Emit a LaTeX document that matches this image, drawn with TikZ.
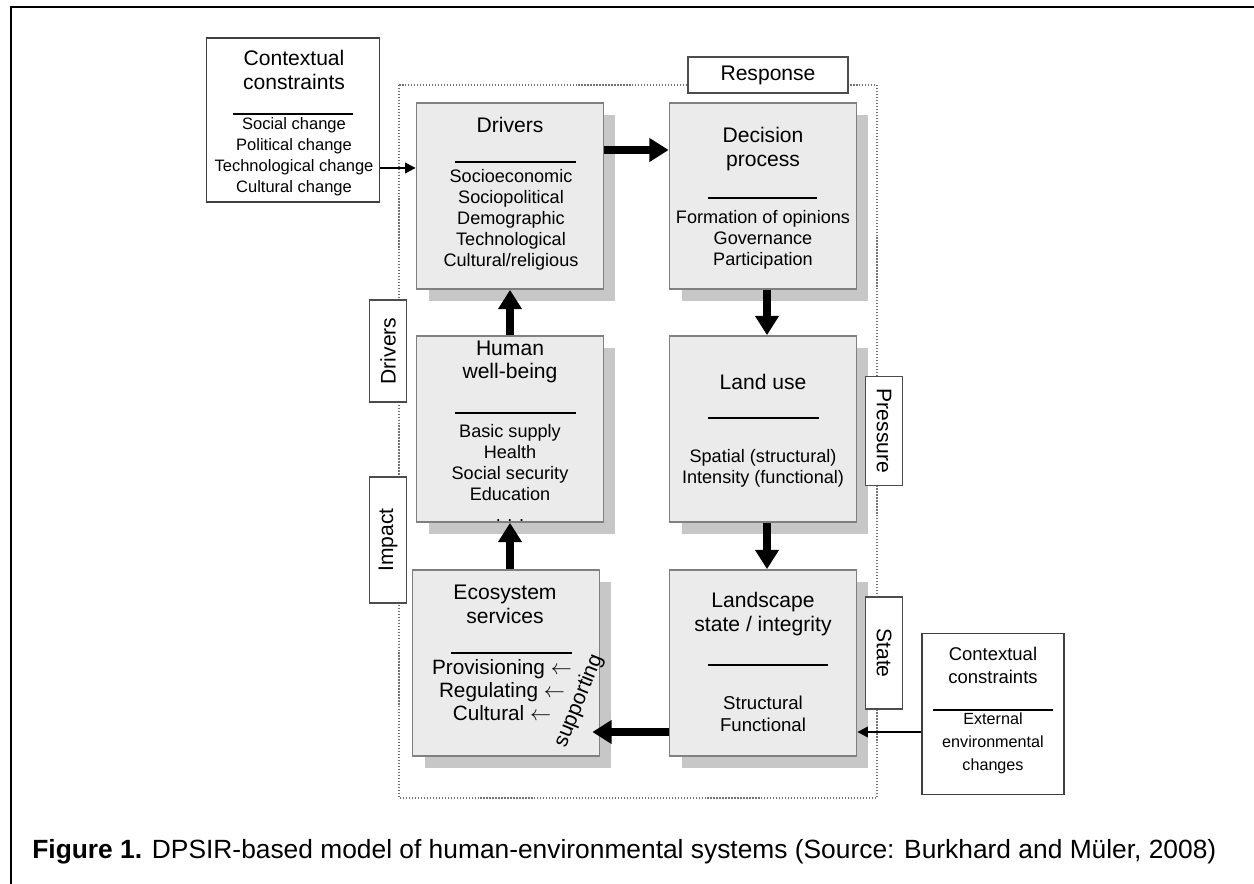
\documentclass[tikz,border=0pt]{standalone}
\usepackage{fontspec}
\setmainfont{Liberation Sans}
\usepackage{tikz}
\usetikzlibrary{shadows}
\usetikzlibrary{positioning}
\usetikzlibrary{arrows.meta,calc}
\tikzstyle{mainbox}=[rectangle,draw=black!50,line width=1pt,fill=black!8,minimum width=3.74cm,minimum height=3.72cm,inner sep=0pt,drop shadow={shadow xshift=0.24cm,shadow yshift=-0.24cm,fill=black!22,opacity=1}]
\tikzstyle{ctxbox}=[rectangle,draw=black!75,line width=0.8pt,fill=white,inner sep=0pt]
\tikzstyle{sidebox}=[rectangle,draw=black!70,line width=0.8pt,fill=white,inner sep=0pt,minimum height=0.74cm,font=\fontsize{12}{14}\selectfont]
\tikzstyle{bigarrow}=[draw,line width=5pt,-{Triangle[width=13pt,length=11pt]}]
\tikzstyle{thinarrow}=[draw,line width=1.1pt,-{Triangle[width=6pt,length=6pt]}]
\tikzstyle{ruleline}=[draw,line width=0.8pt]
\tikzset{boxtitle/.style={align=center,font=\fontsize{12}{13.5}\selectfont},
         boxitems/.style={align=center,font=\fontsize{10.3}{11.9}\selectfont}}

\begin{document}
\begin{tikzpicture}[x=0.02cm,y=-0.02cm]
 \useasboundingbox (0,0) rectangle (1254,884);

 % frame
 \draw[line width=1.2pt] (11,884) -- (11,7) -- (1254,7);

 % system border
 \draw[densely dotted,black!55,line width=0.7pt] (399,85) rectangle (877,798);

 % DPSIR boxes
 \foreach \x/\y/\name in {510/196/drivers, 763/196/decision, 510/429/wellbeing, 763/429/landuse, 506/663/ecosys, 763/663/landscape}
          \node[mainbox] (\name) at (\x,\y) {};

 % side labels
 \node[sidebox,minimum width=3.2cm,minimum height=0.72cm] (lresp) at (768,75) {Response};
 \node[sidebox,rotate=90,minimum width=2.04cm] (ldrv) at (388,351) {Drivers};
 \node[sidebox,rotate=90,minimum width=2.52cm] (limp) at (388,540) {Impact};
 \node[sidebox,rotate=-90,minimum width=2.18cm] (lpres) at (884,431) {Pressure};
 \node[sidebox,rotate=-90,minimum width=2.24cm] (lstate) at (884,653) {State};

 % contextual constraints
 \node[ctxbox,minimum width=3.46cm,minimum height=3.28cm] (ctxtop) at (293,120) {};
 \node[ctxbox,minimum width=2.84cm,minimum height=3.22cm] (ctxbot) at (993,714) {};

 % titles
 \foreach \x/\y/\name/\label in {510/125/tdrivers/{Drivers}, 763/149/tdecision/{Decision\\process}, 510/362/twell/{Human\\well-being}, 763/382/tland/{Land use}, 505/604/teco/{Ecosystem\\services}, 763/614/tscape/{Landscape\\state / integrity}}
          \node[boxtitle] (\name) at (\x,\y) {\label};

 \node[boxtitle,font=\fontsize{12}{13.6}\selectfont] (tctxtop) at (294,70) {Contextual\\constraints};
 \node[boxtitle,font=\fontsize{10.5}{13}\selectfont] (tctxbot) at (993,665) {Contextual\\constraints};

 % rules
 \draw[ruleline] (455,162) -- (576,162);
 \draw[ruleline] (708,198) -- (817,198);
 \draw[ruleline] (455,413) -- (576,413);
 \draw[ruleline] (708,418) -- (819,418);
 \draw[ruleline] (451,653) -- (572,653);
 \draw[ruleline] (708,665) -- (828,665);
 \draw[ruleline] (233,114) -- (353,114);
 \draw[ruleline] (933,710) -- (1053,710);

 % items
 \node[boxitems] (idrivers) at (511,220) {Socioeconomic\\Sociopolitical\\Demographic\\Technological\\{Cultural/religious}};
 \node[boxitems] (idecision) at (763,240) {Formation of opinions\\Governance\\Participation};
 \node[boxitems] (iwell) at (510,473) {Basic supply\\Health\\Social security\\Education\\. . .};
 \node[boxitems] (iland) at (763,468) {Spatial (structural)\\Intensity (functional)};
 \node[boxitems,font=\fontsize{11.8}{13}\selectfont] (ieco) at (502,690) {Provisioning $\leftarrow$\\Regulating $\leftarrow$\\Cultural $\leftarrow$};
 \node[boxitems,font=\fontsize{10.6}{12.5}\selectfont] (iscape) at (763,714) {Structural\\Functional};
 \node[boxitems,font=\fontsize{9.4}{11.9}\selectfont] (ictxtop) at (294,157) {Social change\\Political change\\Technological change\\Cultural change};
 \node[boxitems,font=\fontsize{9.2}{13}\selectfont] (ictxbot) at (993,743) {External\\environmental\\changes};
 \node[rotate=68,font=\fontsize{12}{14}\selectfont] (supp) at (579,701) {supporting};

 % flows
 \path[bigarrow] (drivers.east |- 0,150) -- (decision.west |- 0,150);
 \path[bigarrow] (decision.south -| 767,0) -- (landuse.north -| 767,0);
 \path[bigarrow] (landuse.south -| 767,0) -- (landscape.north -| 767,0);
 \path[bigarrow,shorten >=-0.16cm] (landscape.west |- 0,732) -- (ecosys.east |- 0,732);
 \path[bigarrow] (ecosys.north -| 510,0) -- (wellbeing.south -| 510,0);
 \path[bigarrow] (wellbeing.north -| 510,0) -- (drivers.south -| 510,0);

 \path[thinarrow] (ctxtop.east |- 0,168) -- (drivers.west |- 0,168);
 \path[thinarrow] (ctxbot.west |- 0,732) -- (landscape.east |- 0,732);

 % caption
 \node[anchor=base west,inner sep=0pt,font=\fontsize{15}{17}\selectfont] (caption) at (32,858) {\textbf{Figure 1.} DPSIR-based model of human-environmental systems (Source: Burkhard and Müler, 2008)};

\end{tikzpicture}
\end{document}
